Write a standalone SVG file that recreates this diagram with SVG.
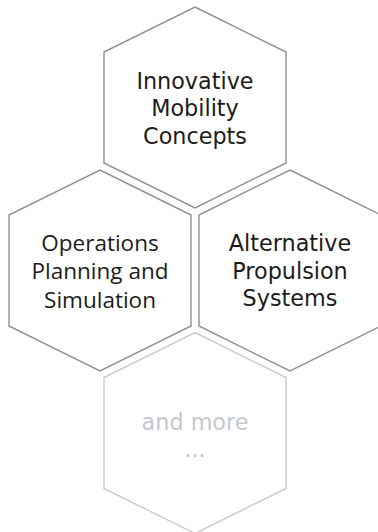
<svg xmlns="http://www.w3.org/2000/svg" width="378" height="532" viewBox="0 0 378 532">
<style>
.hex{fill:#ffffff;stroke:#8c9099;stroke-width:1.4}
.hex.faint{stroke:#c6cbd1}
.t{font-family:"DejaVu Sans","Liberation Sans",sans-serif;font-size:22.3px;fill:#1c1c1c;text-anchor:middle}
.t2{font-family:"Open Sans","Liberation Sans",sans-serif;font-size:22.5px;fill:#1c1c1c;text-anchor:middle}
.t.faint{fill:#c3c8ce}
</style>
<defs>
<path id="hexShape" d="M0,-100.5 L91,-55.5 L91,55.5 L0,100.5 L-91,55.5 L-91,-55.5 Z"/>
</defs>
<rect width="378" height="532" fill="#ffffff"/>
<g id="node-innovative-mobility">
<use href="#hexShape" class="hex" transform="translate(195,107.5)"/>
<text class="t" x="195" y="89">Innovative</text>
<text class="t" x="195" y="116">Mobility</text>
<text class="t" x="195" y="143.5">Concepts</text>
</g>
<g id="node-operations-planning">
<use href="#hexShape" class="hex" transform="translate(100,270.5)"/>
<text class="t2" x="100" y="251">Operations</text>
<text class="t2" x="100" y="279">Planning and</text>
<text class="t2" x="100" y="307.5">Simulation</text>
</g>
<g id="node-alternative-propulsion">
<use href="#hexShape" class="hex" transform="translate(290,270.5)"/>
<text class="t" x="290" y="251">Alternative</text>
<text class="t" x="290" y="278.5">Propulsion</text>
<text class="t" x="290" y="306">Systems</text>
</g>
<g id="node-and-more">
<use href="#hexShape" class="hex faint" transform="translate(195,433)"/>
<text class="t faint" x="195" y="430">and more</text>
<text class="t faint" x="195" y="457">...</text>
</g>
<g id="connectors"></g>
</svg>
